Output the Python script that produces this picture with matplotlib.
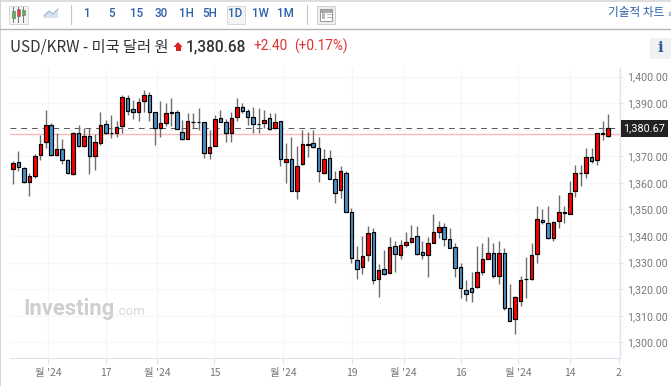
import matplotlib
matplotlib.use("Agg")
import matplotlib.pyplot as plt
from matplotlib.patches import Rectangle

plt.rcParams['font.family'] = ['Noto Sans CJK KR', 'DejaVu Sans']

# candles, one value per day
opens = [1365.3, 1367.8, 1365.7, 1360.4, 1362.7, 1370.3, 1375.3, 1381.9, 1370.3, 1372.9,
         1368.7, 1363.3, 1378.9, 1373.7, 1377.6, 1370.1, 1374.9, 1382.1, 1378.7, 1378.7,
         1381.2, 1392.1, 1387.8, 1386.6, 1390.6, 1393.1, 1386.6, 1380.6, 1382.4, 1386.2,
         1386.8, 1379.3, 1376.6, 1383.0, 1382.9, 1382.9, 1371.4, 1373.9, 1384.3, 1382.8,
         1378.7, 1384.9, 1388.7, 1387.2, 1384.8, 1382.2, 1382.4, 1384.3, 1380.6, 1383.2,
         1367.7, 1368.9, 1356.8, 1367.1, 1374.1, 1374.9, 1373.0, 1363.7, 1369.3, 1361.4,
         1357.2, 1363.6, 1349.1, 1331.0, 1328.4, 1332.9, 1341.5, 1323.8, 1327.4, 1326.2,
         1336.3, 1333.0, 1336.5, 1337.6, 1339.9, 1334.0, 1333.0, 1337.3, 1341.6, 1343.3,
         1338.9, 1335.8, 1328.3, 1319.6, 1320.6, 1320.8, 1326.6, 1331.5, 1333.5, 1325.0,
         1333.5, 1312.8, 1308.8, 1315.4, 1323.8, 1323.8, 1333.1, 1346.0, 1345.0, 1339.1,
         1345.6, 1348.6, 1348.4, 1356.8, 1363.8, 1363.7, 1369.9, 1368.7, 1378.9, 1377.7]
closes = [1367.4, 1366.0, 1360.2, 1362.5, 1370.1, 1374.6, 1381.8, 1370.3, 1372.9, 1368.7,
          1363.7, 1378.9, 1373.7, 1377.6, 1370.1, 1375.3, 1381.8, 1378.7, 1378.6, 1380.9,
          1392.2, 1387.2, 1386.6, 1390.3, 1393.1, 1386.6, 1380.8, 1382.4, 1386.2, 1386.8,
          1380.2, 1376.4, 1383.1, 1382.9, 1382.9, 1371.1, 1373.6, 1384.2, 1382.8, 1378.6,
          1384.4, 1388.7, 1387.2, 1384.6, 1382.2, 1382.1, 1383.8, 1380.4, 1382.8, 1368.9,
          1369.1, 1356.8, 1366.3, 1374.6, 1374.6, 1373.4, 1364.3, 1368.9, 1361.4, 1356.1,
          1364.3, 1349.1, 1331.8, 1327.4, 1332.5, 1341.2, 1323.4, 1327.3, 1325.8, 1335.9,
          1333.3, 1336.5, 1337.6, 1339.3, 1333.3, 1332.9, 1337.3, 1341.5, 1343.3, 1338.9,
          1335.6, 1327.9, 1320.4, 1318.3, 1318.9, 1326.6, 1331.5, 1333.5, 1325.0, 1333.5,
          1312.8, 1308.1, 1317.0, 1323.6, 1323.7, 1333.0, 1346.3, 1345.1, 1339.1, 1345.4,
          1349.2, 1349.2, 1356.2, 1363.7, 1363.7, 1369.9, 1368.3, 1378.9, 1378.3, 1380.5]
highs = [1368.3, 1371.8, 1365.9, 1363.7, 1370.9, 1378.1, 1387.5, 1382.4, 1378.7, 1376.4,
         1368.9, 1379.3, 1381.8, 1380.8, 1380.6, 1378.3, 1386.8, 1383.7, 1385.6, 1383.1,
         1393.1, 1393.1, 1391.2, 1391.8, 1394.9, 1394.3, 1386.8, 1390.6, 1390.2, 1391.8,
         1387.4, 1383.7, 1386.2, 1386.4, 1388.1, 1382.9, 1379.9, 1385.6, 1387.5, 1383.9,
         1386.5, 1391.8, 1389.9, 1387.7, 1388.4, 1388.1, 1387.4, 1386.2, 1386.2, 1383.2,
         1374.9, 1377.4, 1373.9, 1379.9, 1379.3, 1379.7, 1377.4, 1372.8, 1372.4, 1364.5,
         1366.2, 1364.6, 1350.5, 1336.2, 1339.9, 1343.7, 1343.0, 1329.5, 1334.9, 1339.7,
         1338.0, 1338.4, 1341.4, 1344.3, 1343.7, 1338.0, 1339.7, 1348.4, 1345.5, 1344.7,
         1343.0, 1337.5, 1329.8, 1323.5, 1326.6, 1336.3, 1337.3, 1339.5, 1337.5, 1338.3,
         1335.4, 1322.0, 1317.3, 1325.0, 1332.0, 1337.3, 1351.3, 1350.0, 1351.3, 1345.8,
         1355.6, 1351.2, 1360.6, 1366.6, 1366.8, 1373.1, 1373.1, 1378.9, 1383.1, 1385.9]
lows = [1359.7, 1364.3, 1360.0, 1355.0, 1361.8, 1368.7, 1373.1, 1370.2, 1370.2, 1366.9,
        1363.4, 1363.1, 1373.4, 1373.4, 1363.3, 1364.9, 1374.3, 1378.4, 1376.8, 1377.2,
        1378.9, 1385.6, 1383.9, 1383.1, 1386.8, 1383.1, 1374.3, 1377.4, 1381.2, 1381.2,
        1380.2, 1376.2, 1376.4, 1380.6, 1380.0, 1369.3, 1368.9, 1373.7, 1382.7, 1375.2,
        1375.2, 1383.1, 1386.2, 1381.8, 1378.7, 1378.7, 1380.6, 1379.9, 1380.2, 1366.4,
        1359.9, 1356.8, 1353.9, 1366.8, 1369.9, 1373.1, 1360.2, 1363.4, 1361.4, 1352.6,
        1354.3, 1348.9, 1329.9, 1323.9, 1325.8, 1330.5, 1322.0, 1317.2, 1325.5, 1326.2,
        1326.5, 1331.5, 1335.9, 1337.4, 1333.0, 1331.2, 1324.6, 1337.2, 1339.3, 1336.4,
        1335.5, 1324.5, 1316.6, 1315.4, 1315.0, 1320.4, 1325.4, 1331.3, 1324.1, 1322.0,
        1312.3, 1307.9, 1303.1, 1313.5, 1316.5, 1323.5, 1330.0, 1344.5, 1338.8, 1338.3,
        1343.1, 1344.9, 1348.1, 1354.7, 1358.9, 1361.8, 1367.4, 1366.6, 1376.2, 1377.4]

price_ticks = [1300, 1310, 1320, 1330, 1340, 1350, 1360, 1370, 1380, 1390, 1400]
date_pos = [6.4, 17, 26.4, 36.9, 49.5, 62.1, 71.6, 82.1, 92.5, 102.1, 111]
date_labels = ["월 '24", "17", "월 '24", "15", "월 '24", "19", "월 '24", "16", "월 '24", "14", "2"]
last_price = 1380.67
prev_close = 1378.4
intervals = ["1", "5", "15", "30", "1H", "5H", "1D", "1W", "1M"]

fig = plt.figure(figsize=(6.71, 3.86), dpi=100)

# price chart
ax = fig.add_axes([10/671, (386-358)/386, 610/671, 290/386])
ax.set_xlim(-0.55, 111.2)
ax.set_ylim(1294.1, 1403.2)

for i in range(len(opens)):
    up = closes[i] >= opens[i]
    color = '#ff0000' if up else '#4a90c8'
    ax.vlines(i, lows[i], highs[i], color='#6e6e6e', lw=1.0, zorder=2)
    bottom = min(opens[i], closes[i])
    height = abs(closes[i] - opens[i])
    ax.bar(i, height, 0.64, bottom=bottom, color=color, edgecolor='black', lw=0.85, zorder=3)

ax.axhline(prev_close, color='#ffb8b8', lw=1, zorder=1)
ax.axhline(last_price, color='#555555', lw=0.7, dashes=(6, 5), zorder=1)

ax.set_yticks(price_ticks)
# the 1,380 label sits behind the last price tag, so it stays empty
ax.set_yticklabels(["" if p == 1380 else f"{p:,.2f}" for p in price_ticks],
                   fontsize=7.7, color='#777777', family='Roboto')
ax.yaxis.tick_right()
ax.set_xticks(date_pos)
ax.set_xticklabels(date_labels, fontsize=7.5, color='#777777')
ax.tick_params(axis='y', length=2, color='#dde3ee', width=0.8, pad=3)
ax.tick_params(axis='x', length=4, color='#dde3ee', width=0.8, pad=3)
ax.grid(True, color='#f5f6f9', lw=0.8)
ax.set_axisbelow(True)
for s in ['top', 'left']:
    ax.spines[s].set_visible(False)
for s in ['right', 'bottom']:
    ax.spines[s].set_color('#dde3ee')
    ax.spines[s].set_linewidth(0.8)

# page furniture, in pixel coordinates
ui = fig.add_axes([0, 0, 1, 1], zorder=5)
ui.set_xlim(0, 671)
ui.set_ylim(386, 0)
ui.axis('off')

ui.add_patch(Rectangle((0, 0), 671, 1.5, color='#dddddd', lw=0))
ui.add_patch(Rectangle((0, 0), 1.2, 386, color='#d4d4d4', lw=0))
ui.plot([0, 671], [28.5, 28.5], color='#b5b5b5', lw=1)
ui.plot([70.5, 70.5], [5, 24], color='#c4c4c4', lw=0.8)
ui.plot([306.5, 306.5], [5, 24], color='#c4c4c4', lw=0.8)

# candle icon
ui.add_patch(Rectangle((8.5, 5.5), 19, 18, fc='#f4f4f4', ec='#d5d5d5', lw=0.7))
for x, c, y0, y1 in [(13, '#5cb85c', 11, 18), (18, '#e04040', 9, 16), (23, '#5cb85c', 10, 15)]:
    ui.plot([x, x], [7, 22], color='#777777', lw=0.7)
    ui.add_patch(Rectangle((x-1.5, y0), 3, y1-y0, fc=c, ec='#666666', lw=0.4, zorder=4))

# area icon
ui.fill([44, 49, 53, 58, 58, 44], [16, 11, 14, 9, 18, 18], color='#d8e2ee', lw=0)
ui.plot([44, 49, 53, 58], [16, 11, 14, 9], color='#9db4cc', lw=0.8)

ui.add_patch(Rectangle((227, 5.5), 18, 18, fc='#f4f4f4', ec='#d8d8d8', lw=0.7))
for x, label in zip([87.5, 112, 137, 161, 186, 210, 235, 260, 285], intervals):
    ui.text(x, 13.5, label, fontsize=8.4, color='#2a62a8', ha='center', va='center', family='Roboto', weight='medium')

# document icon
ui.add_patch(Rectangle((317, 5.5), 18, 18, fc='#eeeeee', ec='#d0d0d0', lw=0.7))
ui.add_patch(Rectangle((320, 8.5), 12, 12, fc='white', ec='#999999', lw=0.7))
ui.add_patch(Rectangle((320, 8.5), 12, 3, fc='#aaaaaa', ec='#999999', lw=0.5))
ui.add_patch(Rectangle((322, 13), 3, 6, fc='#bbbbbb', lw=0))
ui.plot([326.5, 330.5], [14, 14], color='#aaaaaa', lw=0.6)
ui.plot([326.5, 330.5], [17, 17], color='#aaaaaa', lw=0.6)

ui.text(664, 12.5, "기술적 차트", fontsize=8.4, color='#2a62a8', ha='right', va='center', weight='medium')
ui.text(667, 14, "»", fontsize=7, color='#2a62a8', ha='left', va='center')

# header
ui.text(10, 46.5, "USD/KRW - 미국 달러 원", fontsize=11.0, color='#333333', va='center')
ui.fill([173.5, 178, 182.5], [47, 42, 47], color='#dd2222', lw=0)
ui.add_patch(Rectangle((175.5, 46.5), 5, 4.5, color='#dd2222', lw=0))
ui.text(186, 47, "1,380.68", fontsize=11.2, color='#333333', va='center', family='Roboto', weight='medium')
ui.text(253, 46, "+2.40", fontsize=9.8, color='#e03030', va='center', family='Roboto')
ui.text(294, 46, "(+0.17%)", fontsize=9.8, color='#e03030', va='center', family='Roboto')
ui.add_patch(Rectangle((650, 38), 21, 21, color='#eff1f3', lw=0))
ui.text(660.5, 48.5, "i", fontsize=11, color='#2a5a9a', ha='center', va='center', family='DejaVu Serif', weight='bold')

# last price tag
ui.add_patch(Rectangle((621, 120), 47, 16.5, color='#222222', lw=0))
ui.text(644.5, 128.5, f"{last_price:,.2f}", fontsize=7.8, color='white', ha='center', va='center', family='Roboto')

# watermark
ui.text(23, 309, "Investing", fontsize=15.8, color='#cfcfcf', va='center', family='Roboto', weight='bold')
ui.add_patch(Rectangle((84.5, 299), 2.5, 2, color='#fbe3c0', lw=0))
ui.text(115, 311.5, ".com", fontsize=9.6, color='#d8d8d8', va='center', family='Roboto')

fig.savefig("out.png", dpi=100)
